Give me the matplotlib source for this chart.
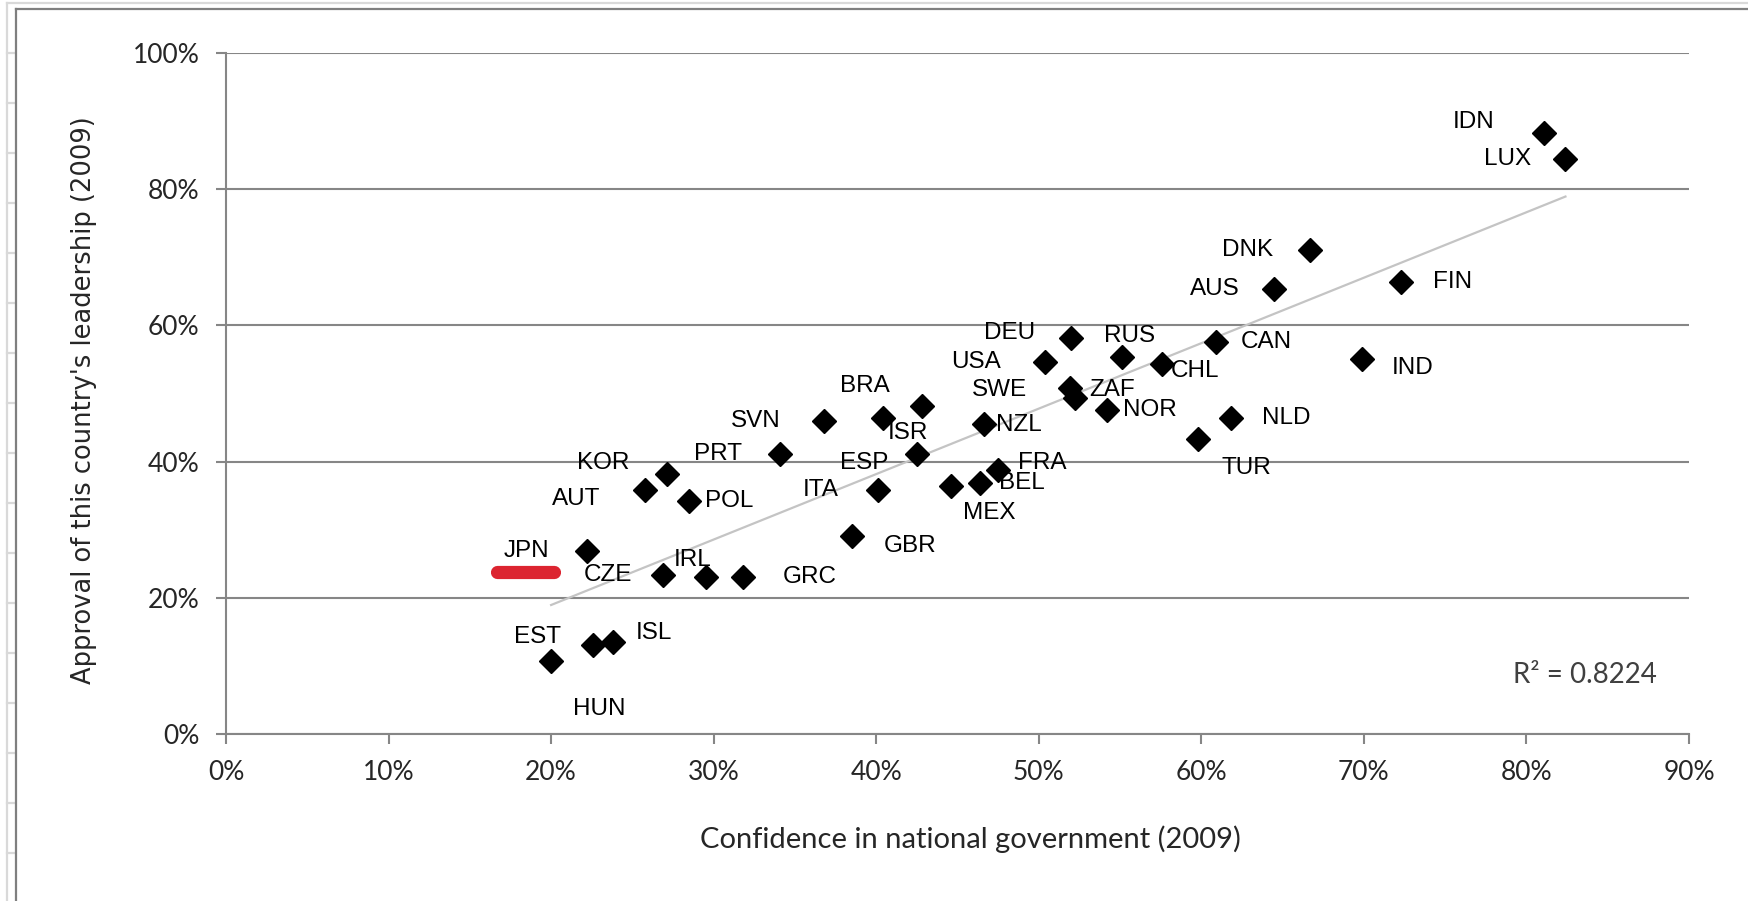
import matplotlib.pyplot as plt
from matplotlib.lines import Line2D
import numpy as np

# countries, confidence in government (x, %) and approval of leadership (y, %)
countries = ["IDN", "LUX", "DNK", "AUS", "FIN", "IND", "CAN", "CHL", "RUS", "DEU",
             "USA", "SWE", "ZAF", "NOR", "NZL", "NLD", "TUR", "FRA", "BEL", "MEX",
             "ISR", "ESP", "ITA", "BRA", "SVN", "PRT", "GBR", "KOR", "AUT", "POL",
             "JPN", "CZE", "IRL", "GRC", "EST", "HUN", "ISL"]
confidence = [81.1, 82.4, 66.7, 64.5, 72.3, 69.9, 60.9, 57.6, 55.1, 52.0,
              50.4, 51.9, 52.2, 54.2, 46.6, 61.8, 59.8, 47.5, 46.4, 44.6,
              42.8, 42.5, 40.1, 40.4, 36.8, 34.1, 38.5, 27.1, 25.8, 28.5,
              22.2, 26.9, 29.5, 31.8, 20.0, 22.6, 23.8]
approval = [88.3, 84.4, 71.0, 65.3, 66.3, 55.0, 57.6, 54.4, 55.3, 58.1,
            54.6, 50.8, 49.3, 47.6, 45.5, 46.4, 43.3, 38.8, 36.8, 36.4,
            48.1, 41.1, 35.9, 46.4, 45.9, 41.1, 29.1, 38.2, 35.9, 34.2,
            26.9, 23.3, 23.0, 23.0, 10.7, 13.0, 13.5]
r2_text = "R² = 0.8224"

# red highlight under the JPN label
highlight_x = [16.7, 20.2]
highlight_y = 23.8

# label offsets from each point, in pixels
label_offsets = [(-71, 11), (-58, 0), (-63, 0), (-60, 0), (51, 0), (50, -9), (50, 0), (33, -7), (8, 21), (-62, 5),
                 (-69, 0), (-70, -2), (38, 8), (43, 0), (35, -1), (56, 0), (48, -29), (44, 7), (42, 0), (38, -27),
                 (-14, -27), (-53, -9), (-57, 0), (-18, 32), (-68, 0), (-62, 0), (58, -10), (-63, 11), (-69, -9), (40, 0),
                 (-60, 0), (-55, 0), (-13, 17), (67, 0), (-14, 24), (6, -64), (41, 9)]

W, H = 1749, 901
fig = plt.figure(figsize=(W / 100, H / 100), dpi=100)
ax = fig.add_axes([226 / W, 1 - 734 / H, (1689 - 226) / W, (734 - 53) / H])

grey = "#868686"
ax.set_xlim(0, 90)
ax.set_ylim(0, 100)
ax.set_xticks(np.arange(0, 91, 10))
ax.set_yticks(np.arange(0, 101, 20))
ax.set_xticklabels([f"{v}%" for v in range(0, 91, 10)])
ax.set_yticklabels([f"{v}%" for v in range(0, 101, 20)])
ax.yaxis.grid(True, color=grey, lw=1.5)
ax.set_axisbelow(True)
for s in ["top", "right"]:
    ax.spines[s].set_visible(False)
for s in ["left", "bottom"]:
    ax.spines[s].set_color(grey)
    ax.spines[s].set_linewidth(1.5)
ax.tick_params(direction="out", length=7, width=1.5, color=grey, labelsize=19,
               labelcolor="#262626", pad=12)
for lab in ax.get_xticklabels() + ax.get_yticklabels():
    lab.set_family("Lato")

x = np.array(confidence)
y = np.array(approval)

# linear trend line
m, b = np.polyfit(x, y, 1)
xs = np.array([x.min(), x.max()])
ax.plot(xs, m * xs + b, color="#c4c4c4", lw=1.6, zorder=2)

ax.plot(x, y, "D", color="black", ms=12.5, zorder=3)

for name, xi, yi, off in zip(countries, x, y, label_offsets):
    ax.annotate(name, (xi, yi), xytext=off, textcoords="offset pixels",
                ha="center", va="center", fontsize=17.5, family="Liberation Sans", zorder=4)

ax.plot(highlight_x, [highlight_y, highlight_y], color="#dc2430", lw=9.5,
        solid_capstyle="round", clip_on=False, zorder=4)

ax.text(83.6, 8.7, r2_text, ha="center", va="center", fontsize=20, family="Lato", color="#404040")

fig.text(970 / W, 1 - 839 / H, "Confidence in national government (2009)", ha="center", va="center",
         fontsize=21, family="Lato", color="#262626")
fig.text(84 / W, 1 - 400 / H, "Approval of this country's leadership (2009)", ha="center", va="center",
         rotation=90, fontsize=18.5, family="DejaVu Sans", color="#262626")

# sheet edge and chart border
light = "#d9d9d9"
fig.add_artist(Line2D([7 / W, 7 / W], [0, 1 - 3 / H], color=light, lw=1.6))
fig.add_artist(Line2D([7 / W, 1], [1 - 3 / H, 1 - 3 / H], color=light, lw=1.6))
for yy in range(53, H, 50):
    fig.add_artist(Line2D([7 / W, 15 / W], [1 - yy / H, 1 - yy / H], color=light, lw=1.6))
fig.add_artist(Line2D([16 / W, 16 / W], [0, 1 - 9 / H], color="#7f7f7f", lw=1.6))
fig.add_artist(Line2D([16 / W, 1], [1 - 9 / H, 1 - 9 / H], color="#7f7f7f", lw=1.6))

fig.savefig("out.png", dpi=100)
